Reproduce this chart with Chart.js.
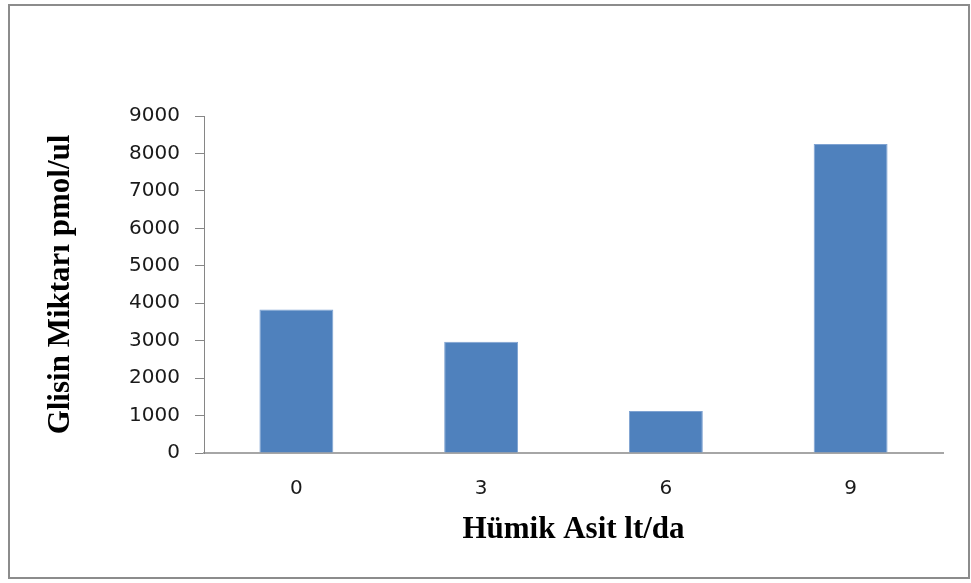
<!DOCTYPE html>
<html>
<head>
<meta charset="utf-8">
<script src="https://cdn.jsdelivr.net/npm/chart.js"></script>
<style>
  html, body { margin: 0; padding: 0; background: #ffffff; }
  #wrap { width: 971px; height: 583px; }
</style>
</head>
<body>
<div id="wrap"><canvas id="chart" width="971" height="583"></canvas></div>
<script>
// Data
const doses = ['0', '3', '6', '9'];
const glycine = [3830, 2970, 1120, 8250];
const yTicks = [0, 1000, 2000, 3000, 4000, 5000, 6000, 7000, 8000, 9000];

const xTitle = 'Hümik Asit lt/da';
const yTitle = 'Glisin Miktarı pmol/ul';

// Outer frame round the whole chart, as in the original
const framePlugin = {
  id: 'frame',
  beforeDraw(chart) {
    const ctx = chart.ctx;
    ctx.save();
    ctx.fillStyle = '#ffffff';
    ctx.fillRect(0, 0, chart.width, chart.height);
    ctx.restore();
  },
  afterDraw(chart) {
    const ctx = chart.ctx;
    ctx.save();
    ctx.strokeStyle = '#8c8c8c';
    ctx.lineWidth = 2;
    ctx.strokeRect(9, 5, 960, 573);
    ctx.restore();
  }
};

const tickFont = { family: '"DejaVu Sans", sans-serif', size: 20 };
const titleFont = { family: '"Liberation Serif", "Times New Roman", serif', size: 31, weight: 'bold' };

const ctx = document.getElementById('chart').getContext('2d');
new Chart(ctx, {
  type: 'bar',
  data: {
    labels: doses,
    datasets: [{
      data: glycine,
      backgroundColor: '#4f81bd',
      borderColor: '#7fa3d2',
      borderWidth: 1,
      barPercentage: 0.4,
      categoryPercentage: 1.0
    }]
  },
  options: {
    responsive: false,
    animation: false,
    layout: { padding: { top: 116, right: 28, bottom: 0, left: 0 } },
    plugins: {
      legend: { display: false },
      tooltip: { enabled: false }
    },
    scales: {
      x: {
        afterFit(scale) { scale.height = 130; },
        grid: { display: true, drawOnChartArea: false, drawTicks: false },
        border: { display: true, color: '#a6a6a6', width: 2 },
        ticks: { color: '#1a1a1a', padding: 24, font: tickFont },
        title: {
          display: true,
          text: xTitle,
          color: '#000000',
          padding: { top: 0, bottom: 34 },
          font: titleFont
        }
      },
      y: {
        min: 0,
        max: 9000,
        afterFit(scale) { scale.width = 204; },
        afterBuildTicks(scale) { scale.ticks = yTicks.map(v => ({ value: v })); },
        grid: { display: true, drawOnChartArea: false, drawTicks: true, tickLength: 9, color: '#868686' },
        border: { display: true, color: '#868686', width: 1 },
        ticks: {
          color: '#1a1a1a',
          padding: 15,
          font: tickFont,
          callback: v => String(v)
        },
        title: {
          display: true,
          text: yTitle,
          color: '#000000',
          padding: { top: 42, bottom: 0 },
          font: titleFont
        }
      }
    }
  },
  plugins: [framePlugin]
});
</script>
</body>
</html>
